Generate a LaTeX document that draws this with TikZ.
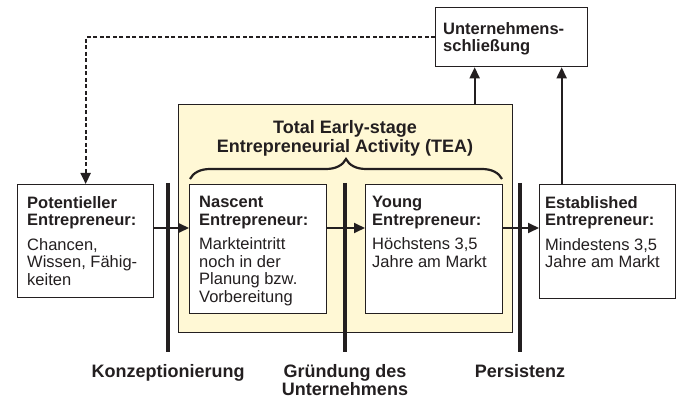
\documentclass[tikz,border=0pt]{standalone}
\usepackage{fontspec}
\setmainfont{Liberation Sans}
\usetikzlibrary{arrows.meta,decorations.pathreplacing,positioning}
\definecolor{ink}{HTML}{231F20}
\definecolor{teafill}{HTML}{FFF8D5}

\begin{document}
\begin{tikzpicture}[x=1pt,y=-1pt,
    box/.style={draw=ink, line width=1.3pt, fill=white, anchor=north west, inner sep=0pt},
    txt/.style={anchor=north west, inner sep=0pt, align=left, text=ink,
        font=\fontsize{16.5}{17.5}\selectfont},
    title/.style={anchor=north, inner sep=0pt, align=center, text=ink,
        font=\fontsize{18}{18}\selectfont\bfseries},
    arr/.style={draw=ink, line width=1.9pt, -{Triangle[length=11pt,width=10pt]}},
    dasharr/.style={arr, dash pattern=on 4pt off 2.5pt},
    bar/.style={draw=ink, line width=3.5pt}
]
        \useasboundingbox (0,0) rectangle (680,398);

        % TEA area
        \node[box, fill=teafill, minimum width=334pt, minimum height=228pt] (tea) at (178,104) {};
        \node[title, font=\fontsize{18}{19.5}\selectfont\bfseries] (teatitle) at (345,120) {Total Early-stage\\Entrepreneurial Activity (TEA)};
        \draw[ink, line width=2.2pt, decorate, decoration={brace, amplitude=20pt}]
            (190,179) -- (502,179);

        % boxes
        \node[box, minimum width=152pt, minimum height=59pt] (unt) at (435,7) {};
        \node[box, minimum width=136pt, minimum height=113pt] (pot) at (17,184) {};
        \node[box, minimum width=137pt, minimum height=129pt] (nas) at (189,184) {};
        \node[box, minimum width=137pt, minimum height=129pt] (yng) at (365,184) {};
        \node[box, minimum width=136pt, minimum height=114pt] (est) at (539,184) {};

        \node[txt] (unttxt) at (443,22) {\textbf{Unternehmens-}\\\textbf{schließung}};
        \node[txt] (pottxt) at (27,196) {\textbf{Potentieller}\\\textbf{Entrepreneur:}\\[7pt]Chancen,\\Wissen, Fähig-\\keiten};
        \node[txt] (nastxt) at (199,196) {\textbf{Nascent}\\\textbf{Entrepreneur:}\\[7pt]Markteintritt\\noch in der\\Planung bzw.\\Vorbereitung};
        \node[txt] (yngtxt) at (372,196) {\textbf{Young}\\\textbf{Entrepreneur:}\\[7pt]Höchstens 3,5\\Jahre am Markt};
        \node[txt] (esttxt) at (545,196) {\textbf{Established}\\\textbf{Entrepreneur:}\\[7pt]Mindestens 3,5\\Jahre am Markt};

        % phase bars
        \draw[bar] (168,183) coordinate (b1top) -- (168,352) coordinate (b1);
        \draw[bar] (345,183) coordinate (b2top) -- (345,352) coordinate (b2);
        \draw[bar] (520,183) coordinate (b3top) -- (520,352) coordinate (b3);

        \node[title] (konz) at (168,364) {Konzeptionierung};
        \node[title] (grue) at (345,364) {Gründung des\\Unternehmens};
        \node[title] (pers) at (520,364) {Persistenz};

        % connectors
        \coordinate (row) at (0,228);
        \draw[arr] (pot.east |- row) -- (nas.west |- row);
        \draw[arr] (nas.east |- row) -- (yng.west |- row);
        \draw[arr] (yng.east |- row) -- (est.west |- row);
        \draw[arr] ([xshift=129pt]tea.north) -- ([xshift=129pt]tea.north |- unt.south);
        \draw[arr] ([xshift=-46pt]est.north) -- ([xshift=-46pt]est.north |- unt.south);
        \draw[dasharr] (unt.west) -| (pot.north);
\end{tikzpicture}
\end{document}
